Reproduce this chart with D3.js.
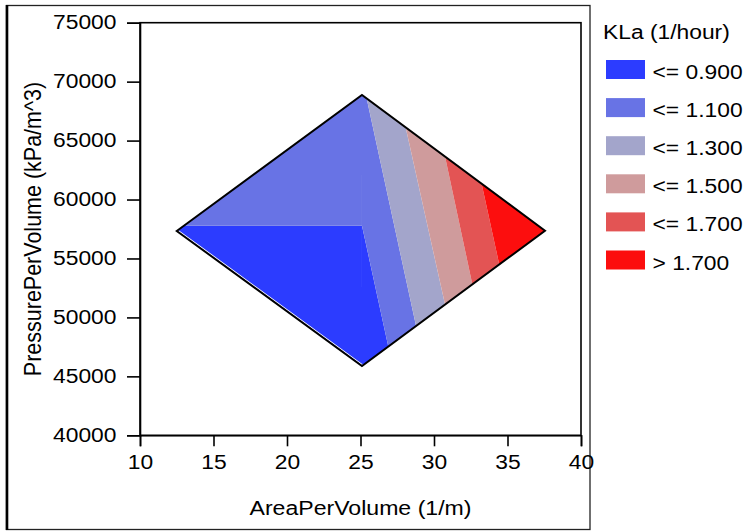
<!DOCTYPE html>
<html>
<head>
<meta charset="utf-8">
<script src="https://cdn.jsdelivr.net/npm/d3@7"></script>
<style>
  html, body { margin: 0; padding: 0; background: #fff; }
  svg text { font-family: "Liberation Sans", Arial, sans-serif; fill: #000; }
</style>
</head>
<body>
<svg id="chart" width="746" height="531"></svg>
<script>
// Axis ticks
const xTicks = [10, 15, 20, 25, 30, 35, 40];
const yTicks = [40000, 45000, 50000, 55000, 60000, 65000, 70000, 75000];

// KLa classes and their fill colours
const levelLabels = ["<= 0.900", "<= 1.100", "<= 1.300", "<= 1.500", "<= 1.700", "> 1.700"];
const levelColors = ["#2c3cff", "#6873e5", "#a3a5cb", "#cf9b9c", "#e35454", "#fc0e0e"];

// Design region corners (AreaPerVolume, PressurePerVolume): left, top, right, bottom
const cornerX = [12.5, 25.1, 37.55, 25.1];
const cornerY = [57330, 68870, 57350, 45880];

// 0.900 contour across the left half of the region
const splitY = 57780;
// AreaPerVolume where the 1.100 .. 1.700 contours meet the upper-right edge
const upperEdgeX = [25.42, 28.07, 30.75, 33.24];
// AreaPerVolume where the 0.900 .. 1.700 contours meet the lower-right edge
const lowerEdgeX = [26.89, 28.78, 30.75, 32.61, 34.44];

const svg = d3.select("#chart");
const plot = { left: 140, right: 581, top: 22.7, bottom: 435.3 };
const sx = 1.17;   // horizontal stretch of the lettering
const fs = 19.5;

const x = d3.scaleLinear().domain([10, 40]).range([plot.left, plot.right]);
const y = d3.scaleLinear().domain([40000, 75000]).range([plot.bottom, plot.top]);

// outer frame
svg.append("rect").attr("x", 6.5).attr("y", 5.5).attr("width", 583.5).attr("height", 524)
  .attr("fill", "none").attr("stroke", "#222").attr("stroke-width", 1.3);
svg.append("line").attr("x1", 7).attr("x2", 7).attr("y1", 5).attr("y2", 530)
  .attr("stroke", "#000").attr("stroke-width", 2.6);

// contour cells
const L = [cornerX[0], cornerY[0]], T = [cornerX[1], cornerY[1]],
      R = [cornerX[2], cornerY[2]], B = [cornerX[3], cornerY[3]];
const C = [T[0], splitY];
const atX = (a, b, xv) => [xv, a[1] + (xv - a[0]) / (b[0] - a[0]) * (b[1] - a[1])];
const atY = (a, b, yv) => [a[0] + (yv - a[1]) / (b[1] - a[1]) * (b[0] - a[0]), yv];
const S = atY(L, T, splitY);
const U = upperEdgeX.map(v => atX(T, R, v));
const D = lowerEdgeX.map(v => atX(B, R, v));

const cells = [
  { level: 0, pts: [L, S, C, B] },
  { level: 0, pts: [C, D[0], B] },
  { level: 1, pts: [S, T, C] },
  { level: 1, pts: [T, U[0], D[1], D[0], C] },
  { level: 2, pts: [U[0], U[1], D[2], D[1]] },
  { level: 3, pts: [U[1], U[2], D[3], D[2]] },
  { level: 4, pts: [U[2], U[3], D[4], D[3]] },
  { level: 5, pts: [U[3], R, D[4]] }
];

const toPath = pts => "M" + pts.map(p => x(p[0]) + "," + y(p[1])).join("L") + "Z";

svg.append("g").selectAll("path").data(cells).join("path")
  .attr("d", d => toPath(d.pts))
  .attr("fill", d => levelColors[d.level]);

// light rim along the lower-left edge, then the region outline
svg.append("line")
  .attr("x1", x(L[0]) + 0.6).attr("y1", y(L[1]) - 1.1)
  .attr("x2", x(B[0]) + 0.6).attr("y2", y(B[1]) - 1.1)
  .attr("stroke", "#fff").attr("stroke-width", 1.2);
svg.append("path").attr("d", toPath([L, T, R, B]))
  .attr("fill", "none").attr("stroke", "#000").attr("stroke-width", 2)
  .attr("stroke-linejoin", "miter");

// plot box
svg.append("rect").attr("x", plot.left).attr("y", plot.top)
  .attr("width", plot.right - plot.left).attr("height", plot.bottom - plot.top)
  .attr("fill", "none").attr("stroke", "#000").attr("stroke-width", 1.6);

// axes
const gx = svg.append("g").attr("transform", `translate(0,${plot.bottom})`)
  .call(d3.axisBottom(x).tickValues(xTicks).tickFormat(d3.format("d")).tickSize(11).tickPadding(9));
const gy = svg.append("g").attr("transform", `translate(${plot.left},0)`)
  .call(d3.axisLeft(y).tickValues(yTicks).tickFormat(d3.format("d")).tickSize(13).tickPadding(10));
[gx, gy].forEach(g => {
  g.select(".domain").attr("stroke-width", 1.6);
  g.selectAll(".tick line").attr("stroke-width", 1.6);
  g.selectAll(".tick text").attr("font-size", fs).attr("font-family", null);
});
gx.selectAll(".tick text").attr("transform", `scale(${sx},1)`);
gy.selectAll(".tick text").attr("x", -23.5 / sx).attr("transform", `scale(${sx},1)`);

// axis titles
svg.append("text")
  .attr("transform", `translate(${(plot.left + plot.right) / 2},515) scale(1.1,1)`)
  .attr("text-anchor", "middle").attr("font-size", 21)
  .text("AreaPerVolume (1/m)");
svg.append("text")
  .attr("transform", `translate(41,${(plot.top + plot.bottom) / 2}) rotate(-90) scale(1,1.12)`)
  .attr("text-anchor", "middle").attr("font-size", 21.5)
  .text("PressurePerVolume (kPa/m^3)");

// legend
const lg = svg.append("g");
lg.append("text").attr("transform", `translate(603,38.5) scale(${sx},1)`)
  .attr("font-size", fs).text("KLa (1/hour)");
const items = lg.selectAll("g.item").data(levelLabels).join("g")
  .attr("class", "item")
  .attr("transform", (d, i) => `translate(606,${60 + i * 38.1})`);
items.append("rect").attr("width", 39).attr("height", 19)
  .attr("fill", (d, i) => levelColors[i]);
items.append("text").attr("transform", `translate(46.5,19) scale(${sx},1)`)
  .attr("font-size", fs).text(d => d);
</script>
</body>
</html>
